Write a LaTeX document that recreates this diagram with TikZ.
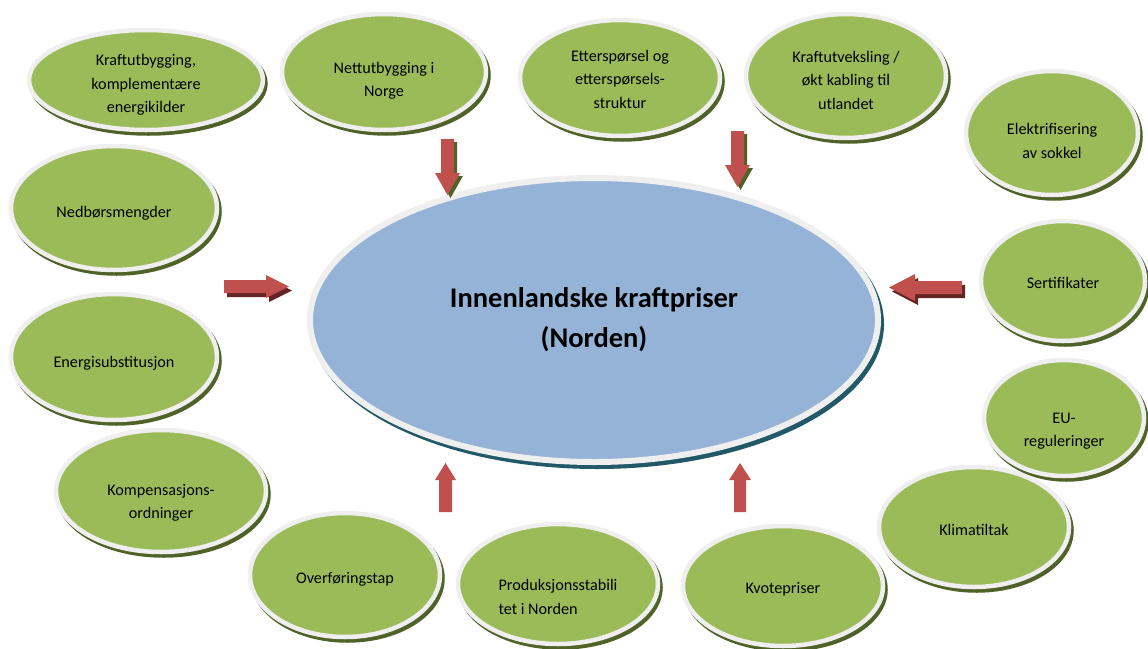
\documentclass[tikz,border=0pt]{standalone}
\usepackage{fontspec}
\setmainfont{Carlito}
\usetikzlibrary{shapes.geometric,shadows}
\definecolor{bgreen}{HTML}{9BBB59}
\definecolor{dgreen}{HTML}{4F6228}
\definecolor{rimc}{HTML}{EFEFEF}
\definecolor{bblue}{HTML}{95B3D7}
\definecolor{dteal}{HTML}{215968}
\definecolor{ared}{HTML}{C0504D}
\definecolor{dred}{HTML}{632523}
% ellipse with its text placed a little lower than the centre, as in the original
\newcommand\factorbubble[7][center]{%
  \node[factor, minimum width=#4, minimum height=#5] (#2) at (#3) {};
  \node[ftext, align=#1] (#2-text) at ([yshift=-#6pt]#2.center) {#7};}
\begin{document}
\begin{tikzpicture}[x=1pt,y=-1pt,
  factor/.style={ellipse, fill=bgreen, draw=rimc, line width=4.5pt, inner sep=0pt,
    general shadow={fill=dgreen, draw=dgreen, line width=4.5pt,
      shadow xshift=2.5pt, shadow yshift=-3.5pt}},
  ftext/.style={inner sep=0pt, text=black, font=\fontsize{16.2}{23.5}\selectfont},
  hub/.style={ellipse, fill=bblue, draw=rimc, line width=6pt, inner sep=0pt,
    align=center, text=black, font=\fontsize{28.5}{40}\selectfont\bfseries,
    general shadow={fill=dteal, draw=dteal, line width=6pt,
      shadow xshift=3pt, shadow yshift=-4pt}},
  redarrow/.style={fill=ared},
  greenshade/.style={fill=dgreen, shift={(3,3)}},
  redshade/.style={fill=dred, shift={(3,4)}}]
\useasboundingbox (0,0) rectangle (1148,648);

\node[hub, minimum width=568, minimum height=284] (pris) at (594,320)
  {Innenlandske kraftpriser\\(Norden)};

\factorbubble{kraft}{146,80}{234}{100}{5}{Kraftutbygging,\\komplementære\\energikilder}
\factorbubble{nett}{384,72}{204}{116}{9}{Nettutbygging i\\Norge}
\factorbubble{etter}{620,78}{200}{116}{1}{Etterspørsel og\\etterspørsels-\\struktur}
\factorbubble{utv}{846,76}{200}{124}{4}{Kraftutveksling /\\økt kabling til\\utlandet}
\factorbubble{elek}{1052,133}{172}{124}{8}{Elektrifisering\\av sokkel}
\factorbubble{nedb}{114,208}{206}{124}{5}{Nedbørsmengder}
\factorbubble{sert}{1063,281}{164}{120}{2}{Sertifikater}
\factorbubble{subst}{114,357}{206}{126}{6}{Energisubstitusjon}
\factorbubble{eu}{1064,418}{160}{116}{13}{EU-\\reguleringer}
\factorbubble{komp}{161,491}{210}{122}{12}{Kompensasjons-\\ordninger}
\factorbubble{klima}{974,527}{190}{120}{3}{Klimatiltak}
\factorbubble{overf}{345,575}{190}{124}{4}{Overføringstap}
\factorbubble[left]{prod}{558,584}{200}{120}{13}{Produksjonsstabili\\tet i Norden}
\factorbubble{kvote}{783,586}{200}{120}{3}{Kvotepriser}

% down arrows
\fill[greenshade] (441,139) -- (454,139) -- (454,173) -- (460,173) -- (447.5,195) -- (435,173) -- (441,173) -- cycle;
\fill[redarrow] (441,139) -- (454,139) -- (454,173) -- (460,173) -- (447.5,195) -- (435,173) -- (441,173) -- cycle;
\fill[greenshade] (731,131) -- (744,131) -- (744,165) -- (750,165) -- (737.5,187) -- (725,165) -- (731,165) -- cycle;
\fill[redarrow] (731,131) -- (744,131) -- (744,165) -- (750,165) -- (737.5,187) -- (725,165) -- (731,165) -- cycle;
% right arrow
\fill[redshade] (224,280) -- (266,280) -- (266,275) -- (289,286.5) -- (266,298) -- (266,293) -- (224,293) -- cycle;
\fill[redarrow] (224,280) -- (266,280) -- (266,275) -- (289,286.5) -- (266,298) -- (266,293) -- (224,293) -- cycle;
% left arrow
\fill[redshade] (962,281) -- (915,281) -- (915,274) -- (889,287.5) -- (915,301) -- (915,294) -- (962,294) -- cycle;
\fill[redarrow] (962,281) -- (915,281) -- (915,274) -- (889,287.5) -- (915,301) -- (915,294) -- (962,294) -- cycle;
% up arrows
\fill[redarrow] (439,512) -- (452,512) -- (452,480) -- (456,480) -- (445.5,463) -- (435,480) -- (439,480) -- cycle;
\fill[redarrow] (734,512) -- (746,512) -- (746,480) -- (751,480) -- (740,463) -- (729,480) -- (734,480) -- cycle;
\end{tikzpicture}
\end{document}
